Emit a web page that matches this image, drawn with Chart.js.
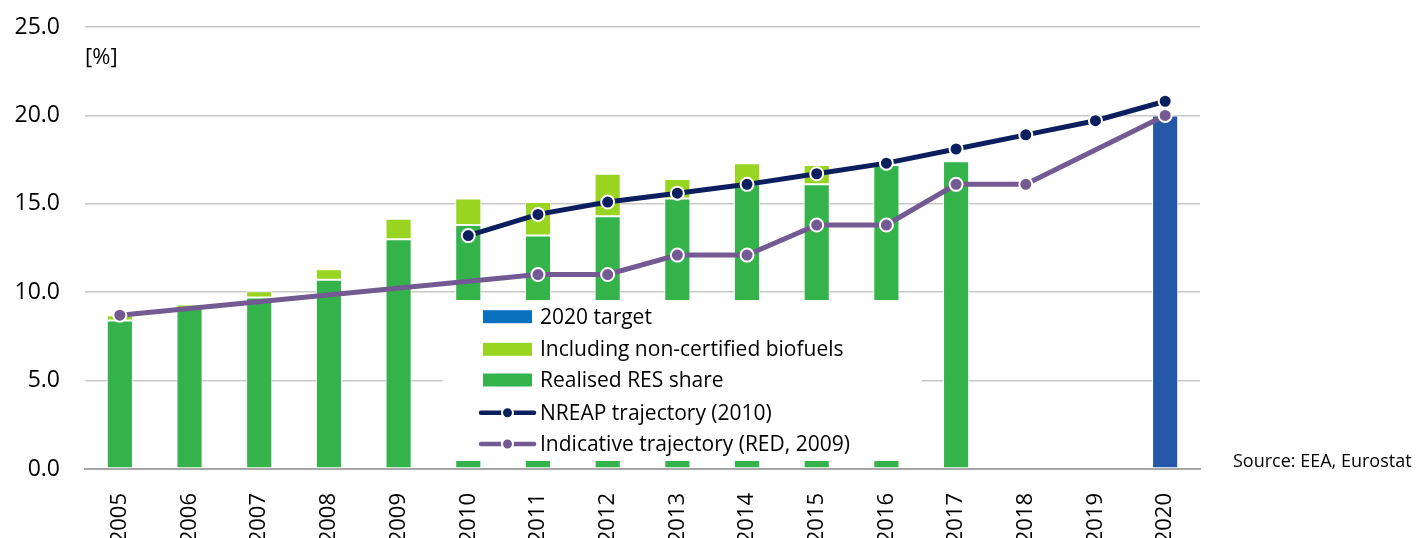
<!DOCTYPE html>
<html>
<head>
<meta charset="utf-8">
<script src="https://cdn.jsdelivr.net/npm/chart.js@4.4.1/dist/chart.umd.min.js"></script>
<style>
  html, body { margin: 0; padding: 0; background: #fff; }
  #wrap { width: 1419px; height: 538px; }
</style>
</head>
<body>
<div id="wrap"><canvas id="myChart" width="1419" height="538"></canvas></div>
<script>
const years = ["2005", "2006", "2007", "2008", "2009", "2010", "2011", "2012",
  "2013", "2014", "2015", "2016", "2017", "2018", "2019", "2020"];

// realised RES share and the extra part from non-certified biofuels (stacked on top)
const realisedShare = [8.4, 9.1, 9.7, 10.7, 13.0, 13.8, 13.2, 14.3, 15.3, 16.1, 16.1, 17.2, 17.4, null, null, null];
const nonCertified = [0.3, 0.2, 0.35, 0.6, 1.15, 1.5, 1.9, 2.4, 1.1, 1.2, 1.1, null, null, null, null, null];
const target2020 = [null, null, null, null, null, null, null, null, null, null, null, null, null, null, null, 20.0];

const nreapTraj = [null, null, null, null, null, 13.2, 14.4, 15.1, 15.6, 16.1, 16.7, 17.3, 18.1, 18.9, 19.7, 20.8];
const indicativeTraj = [8.7, null, null, null, null, null, 11.0, 11.0, 12.1, 12.1, 13.8, 13.8, 16.1, 16.1, null, 20.0];

const yTicks = [0, 5, 10, 15, 20, 25];

const GREEN = "#33b34a";
const LIGHT_GREEN = "#99d420";
const BLUE_BAR = "#2558a8";
const BLUE_LEGEND = "#0a70c0";
const NAVY = "#0b1f5e";
const PURPLE = "#735a92";
const FONT = "'Open Sans', sans-serif";

// legend in a white box inside the plot, plus the unit and source texts
const extrasPlugin = {
  id: "extras",
  afterDraw(chart) {
    const ctx = chart.ctx;
    const area = chart.chartArea;
    ctx.save();

    const boxL = area.left + 358, boxR = area.left + 837;
    const boxT = area.bottom - 169, boxB = area.bottom - 8;
    ctx.fillStyle = "#fff";
    ctx.fillRect(boxL, boxT, boxR - boxL, boxB - boxT);

    const items = [
      { label: "2020 target", type: "box", color: BLUE_LEGEND },
      { label: "Including non-certified biofuels", type: "box", color: LIGHT_GREEN },
      { label: "Realised RES share", type: "box", color: GREEN },
      { label: "NREAP trajectory (2010)", type: "line", color: NAVY },
      { label: "Indicative trajectory (RED, 2009)", type: "line", color: PURPLE },
    ];
    const rowY = [316.7, 349.3, 380, 412.7, 444];
    ctx.font = "21px " + FONT;
    ctx.textBaseline = "middle";
    items.forEach((it, i) => {
      const y = rowY[i];
      if (it.type === "box") {
        ctx.fillStyle = it.color;
        ctx.fillRect(483, y - 6.5, 49, 13);
      } else {
        ctx.strokeStyle = it.color;
        ctx.lineWidth = 4.5;
        ctx.lineCap = "round";
        ctx.beginPath();
        ctx.moveTo(481, y);
        ctx.lineTo(534, y);
        ctx.stroke();
        ctx.beginPath();
        ctx.arc(507.5, y, 5.5, 0, Math.PI * 2);
        ctx.fillStyle = it.color;
        ctx.fill();
        ctx.lineWidth = 2;
        ctx.strokeStyle = "#fff";
        ctx.stroke();
      }
      ctx.fillStyle = "#000";
      ctx.fillText(it.label, 540, y + 1);
    });

    ctx.font = "22px " + FONT;
    ctx.fillStyle = "#000";
    ctx.fillText("[%]", area.left, 58);

    ctx.font = "18px " + FONT;
    ctx.fillText("Source: EEA, Eurostat", 1233, 462);
    ctx.restore();
  },
};

const ctx = document.getElementById("myChart");

const myChart = new Chart(ctx, {
  type: "bar",
  data: {
    labels: years,
    datasets: [
      {
        label: "NREAP trajectory (2010)",
        type: "line",
        data: nreapTraj,
        stack: "nreap",
        order: 0,
        borderColor: NAVY,
        borderWidth: 5,
        backgroundColor: NAVY,
        pointBackgroundColor: NAVY,
        pointBorderColor: "#fff",
        pointBorderWidth: 2,
        pointRadius: 6.5,
        tension: 0,
      },
      {
        label: "Indicative trajectory (RED, 2009)",
        type: "line",
        data: indicativeTraj,
        stack: "ind",
        order: 0,
        spanGaps: true,
        borderColor: PURPLE,
        borderWidth: 5,
        backgroundColor: PURPLE,
        pointBackgroundColor: PURPLE,
        pointBorderColor: "#fff",
        pointBorderWidth: 2,
        pointRadius: 6.5,
        tension: 0,
      },
      {
        label: "Realised RES share",
        data: realisedShare,
        stack: "res",
        order: 1,
        backgroundColor: GREEN,
        borderColor: "#fff",
        borderWidth: 1,
        borderSkipped: false,
      },
      {
        label: "Including non-certified biofuels",
        data: nonCertified,
        stack: "res",
        order: 1,
        backgroundColor: LIGHT_GREEN,
        borderColor: "#fff",
        borderWidth: 1,
        borderSkipped: false,
      },
      {
        label: "2020 target",
        data: target2020,
        stack: "res",
        order: 1,
        backgroundColor: BLUE_BAR,
        borderColor: "#fff",
        borderWidth: 1,
        borderSkipped: false,
      },
    ],
  },
  options: {
    responsive: false,
    animation: false,
    layout: { padding: { left: 0, right: 219, top: 27, bottom: 0 } },
    datasets: { bar: { barPercentage: 0.75, categoryPercentage: 0.5 } },
    plugins: { legend: { display: false }, tooltip: { enabled: false } },
    scales: {
      x: {
        grid: { display: false },
        border: { display: true, color: "#a6a6a6", width: 2 },
        ticks: {
          color: "#000",
          font: { family: FONT, size: 22 },
          minRotation: 90,
          maxRotation: 90,
          padding: 16,
        },
        afterFit: (scale) => { scale.height = 69; },
      },
      y: {
        stacked: true,
        min: 0,
        max: 25,
        afterBuildTicks: (scale) => { scale.ticks = yTicks.map((v) => ({ value: v })); },
        grid: { color: "#c8c8c8", lineWidth: 1.5, drawTicks: false },
        border: { display: false },
        ticks: {
          color: "#000",
          font: { family: FONT, size: 23 },
          padding: 25,
          callback: (v) => Number(v).toFixed(1),
        },
        // tick padding would otherwise push the plot top down
        afterFit: (scale) => {
          scale.width = 85;
          scale.paddingTop = 0;
          scale.paddingBottom = 0;
        },
      },
    },
  },
  plugins: [extrasPlugin],
});
</script>
</body>
</html>
